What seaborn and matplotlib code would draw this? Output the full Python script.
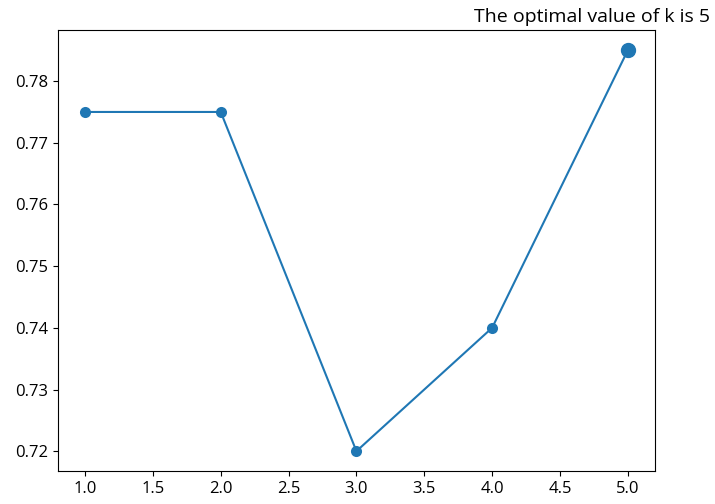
import numpy as np
import matplotlib.pyplot as plt
import seaborn as sns
import pandas as pd

k_values = [1, 2, 3, 4, 5]
scores = [0.775, 0.775, 0.72, 0.74, 0.785]

plt.rcParams['font.family'] = ['Open Sans', 'DejaVu Sans']

df = pd.DataFrame({"k": k_values, "score": scores})
best = df.loc[df["score"].idxmax()]

fig, ax = plt.subplots(figsize=(7.15, 5.04), dpi=100)
fig.subplots_adjust(left=0.081, right=0.916, top=0.94, bottom=0.065)

sns.lineplot(ax=ax, data=df, x="k", y="score", marker="o", markersize=8,
             markeredgewidth=0, color="#1f77b4", linewidth=1.5)
ax.plot([best["k"]], [best["score"]], "o", color="#1f77b4", markersize=10)

ax.set_xlabel("")
ax.set_ylabel("")
ax.tick_params(labelsize=12)
ax.text(1.093, 1.01, "The optimal value of k is %d" % best["k"], transform=ax.transAxes,
        ha="right", va="bottom", fontsize=14)

fig.savefig("out.png", dpi=100)
